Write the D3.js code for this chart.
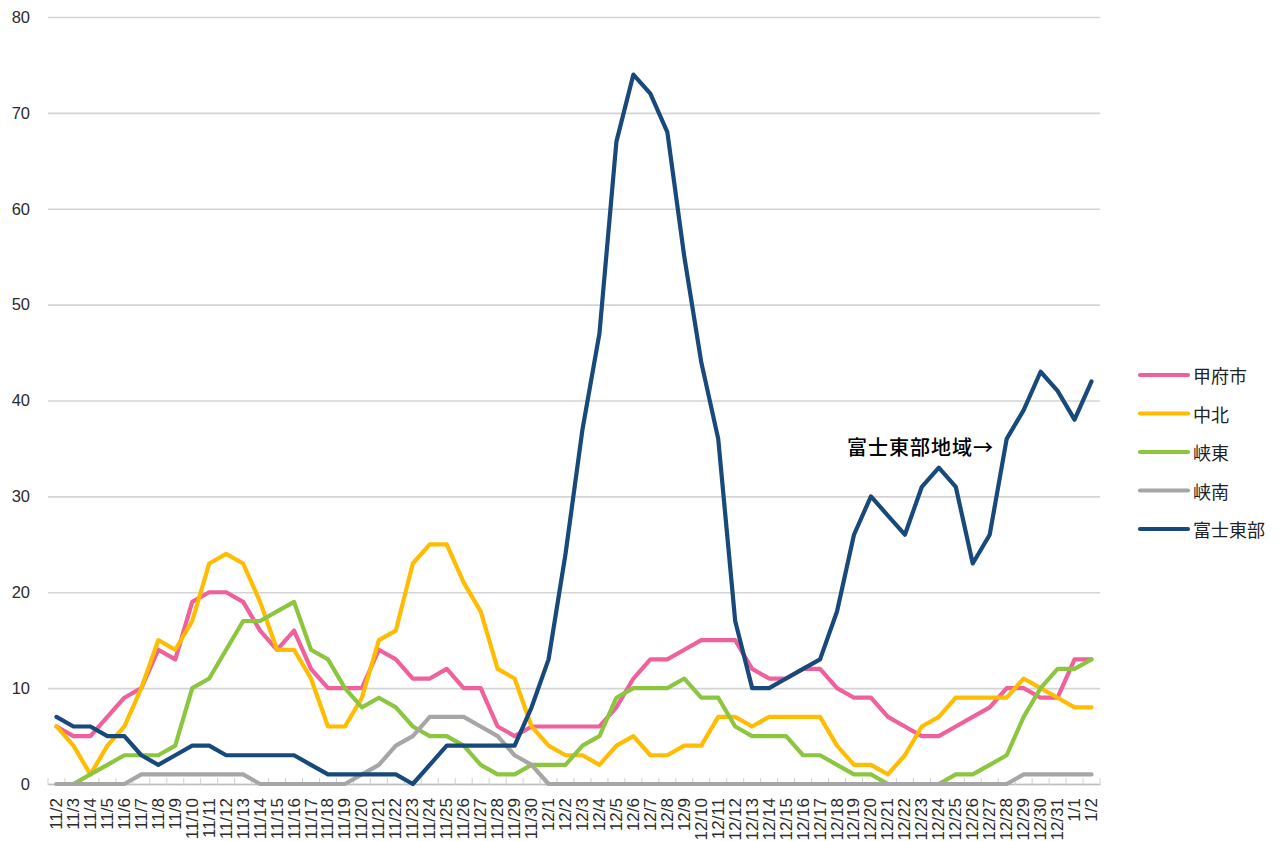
<!DOCTYPE html>
<html>
<head>
<meta charset="utf-8">
<script src="https://cdn.jsdelivr.net/npm/d3@7"></script>
<style>
  body { margin: 0; background: #fff; }
  svg { display: block; }
</style>
</head>
<body>
<div id="chart"></div>
<script>
// category labels (11/2 .. 1/2)
const dates = [
  "11/2","11/3","11/4","11/5","11/6","11/7","11/8","11/9","11/10","11/11",
  "11/12","11/13","11/14","11/15","11/16","11/17","11/18","11/19","11/20","11/21",
  "11/22","11/23","11/24","11/25","11/26","11/27","11/28","11/29","11/30",
  "12/1","12/2","12/3","12/4","12/5","12/6","12/7","12/8","12/9","12/10",
  "12/11","12/12","12/13","12/14","12/15","12/16","12/17","12/18","12/19","12/20",
  "12/21","12/22","12/23","12/24","12/25","12/26","12/27","12/28","12/29","12/30",
  "12/31","1/1","1/2"
];

const kofu = [
  6,5,5,7,9,10,14,13,19,20, 20,19,16,14,16,12,10,10,10,14, 13,11,11,12,10,10,6,5,6,
  6,6,6,6,8,11,13,13,14,15, 15,15,12,11,11,12,12,10,9,9, 7,6,5,5,6,7,8,10,10,9, 9,
  13,13
];
const chuhoku = [
  6,4,1,4,6,10,15,14,17,23, 24,23,19,14,14,11,6,6,9,15, 16,23,25,25,21,18,12,11,6,
  4,3,3,2,4,5,3,3,4,4, 7,7,6,7,7,7,7,4,2,2, 1,3,6,7,9,9,9,9,11,10, 9,
  8,8
];
const kyoto = [
  0,0,1,2,3,3,3,4,10,11, 14,17,17,18,19,14,13,10,8,9, 8,6,5,5,4,2,1,1,2,
  2,2,4,5,9,10,10,10,11,9, 9,6,5,5,5,3,3,2,1,1, 0,0,0,0,1,1,2,3,7,10, 12,
  12,13
];
const kyonan = [
  0,0,0,0,0,1,1,1,1,1, 1,1,0,0,0,0,0,0,1,2, 4,5,7,7,7,6,5,3,2,
  0,0,0,0,0,0,0,0,0,0, 0,0,0,0,0,0,0,0,0,0, 0,0,0,0,0,0,0,0,1,1, 1,
  1,1
];
const fujiTobu = [
  7,6,6,5,5,3,2,3,4,4, 3,3,3,3,3,2,1,1,1,1, 1,0,2,4,4,4,4,4,8,
  13,24,37,47,67,74,72,68,55,44, 36,17,10,10,11,12,13,18,26,30, 28,26,31,33,31,23,26,36,39,43, 41,
  38,42
];

const seriesNames = ["甲府市", "中北", "峡東", "峡南", "富士東部"];
const seriesColors = ["#f0609a", "#ffbc00", "#8cc63f", "#a6a6a6", "#17497a"];
const yTicks = [0, 10, 20, 30, 40, 50, 60, 70, 80];

const series = [kofu, chuhoku, kyoto, kyonan, fujiTobu].map((vals, k) => ({
  name: seriesNames[k], color: seriesColors[k], values: vals
}));

const width = 1283, height = 841;
const plot = { left: 48, right: 1100, top: 17, bottom: 784 };

const svg = d3.select("#chart").append("svg")
  .attr("width", width)
  .attr("height", height)
  .style("font-family", "'Open Sans', 'Noto Sans CJK JP', sans-serif");

const xScale = d3.scaleBand()
  .domain(dates)
  .range([plot.left, plot.right])
  .padding(0);

const yScale = d3.scaleLinear()
  .domain([0, 80])
  .range([plot.bottom, plot.top]);

const xc = d => xScale(d) + xScale.bandwidth() / 2;

// gridlines + y labels
const yAxis = svg.append("g")
  .attr("transform", "translate(" + plot.left + ",0)")
  .call(d3.axisLeft(yScale)
    .tickValues(yTicks)
    .tickSize(-(plot.right - plot.left))
    .tickPadding(18));
yAxis.select(".domain").remove();
yAxis.selectAll(".tick line")
  .attr("stroke", "#d4d4d4")
  .attr("stroke-width", 1.6);
yAxis.selectAll(".tick text")
  .attr("fill", "#2b2b2b")
  .style("font-size", "16.5px");

// x axis
const xAxis = svg.append("g")
  .attr("transform", "translate(0," + plot.bottom + ")")
  .call(d3.axisBottom(xScale).tickSize(0).tickPadding(0));
xAxis.select(".domain")
  .attr("stroke", "#bfbfbf")
  .attr("stroke-width", 1.5);
xAxis.selectAll(".tick text")
  .attr("fill", "#2b2b2b")
  .style("font-size", "17px")
  .attr("text-anchor", "end")
  .attr("dominant-baseline", "central")
  .attr("transform", "translate(0,14) rotate(-90)")
  .attr("x", 0)
  .attr("y", 0)
  .attr("dy", null);

// small tick marks at category boundaries
svg.append("g")
  .selectAll("line")
  .data(dates.concat(["end"]))
  .join("line")
  .attr("x1", (d, i) => plot.left + i * xScale.bandwidth())
  .attr("x2", (d, i) => plot.left + i * xScale.bandwidth())
  .attr("y1", plot.bottom - 6)
  .attr("y2", plot.bottom + 1)
  .attr("stroke", "#d0d0d0")
  .attr("stroke-width", 1);

// lines
const line = d3.line()
  .x((v, i) => xc(dates[i]))
  .y(v => yScale(v));

svg.append("g")
  .selectAll("path")
  .data(series)
  .join("path")
  .attr("d", s => line(s.values))
  .attr("fill", "none")
  .attr("stroke", s => s.color)
  .attr("stroke-width", 4.2)
  .attr("stroke-linejoin", "round")
  .attr("stroke-linecap", "round");

// annotation
svg.append("text")
  .attr("x", 847)
  .attr("y", 455)
  .attr("fill", "#000")
  .style("font-family", "'Noto Sans CJK JP', sans-serif")
  .style("font-size", "20px")
  .style("font-weight", "500")
  .style("letter-spacing", "1px")
  .text("富士東部地域→");

// legend
const legend = svg.append("g")
  .attr("transform", "translate(1140,375)");

const items = legend.selectAll("g")
  .data(series)
  .join("g")
  .attr("transform", (d, i) => "translate(0," + i * 38.5 + ")");

items.append("line")
  .attr("x1", 0).attr("x2", 48)
  .attr("y1", 0).attr("y2", 0)
  .attr("stroke", d => d.color)
  .attr("stroke-width", 4.2)
  .attr("stroke-linecap", "round");

items.append("text")
  .attr("x", 53)
  .attr("y", 0)
  .attr("dominant-baseline", "central")
  .attr("fill", "#222")
  .style("font-family", "'Noto Sans CJK JP', sans-serif")
  .style("font-size", "18px")
  .text(d => d.name);
</script>
</body>
</html>
